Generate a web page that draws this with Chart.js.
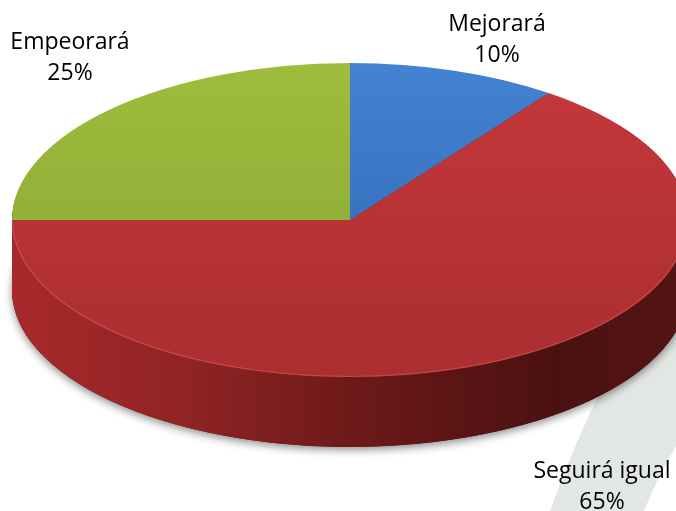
<!DOCTYPE html>
<html>
<head>
<meta charset="utf-8">
<script src="https://cdn.jsdelivr.net/npm/chart.js@4/dist/chart.umd.min.js"></script>
<style>
  html, body { margin: 0; padding: 0; background: #fff; }
  #wrap { width: 676px; height: 511px; position: relative; }
</style>
</head>
<body>
<div id="wrap"><canvas id="chart"></canvas></div>
<script>
const labels = ["Mejorará", "Seguirá igual", "Empeorará"];
const values = [10, 65, 25];

// colours: top face (light, dark) and side
const topLight = ["#4383d2", "#c4383b", "#9ebd3d"];
const topDark = ["#2e63ad", "#ab2e30", "#86a433"];
const sideColor = ["#1f4a80", null, "#5e7524"];

// placement of the flattened pie
const RX = 338, RY = 157, DEPTH = 70;
const labelPos = [[497, 24], [602, 471], [70, 42]];

function topGradient(ctx) {
  const chart = ctx.chart;
  const i = ctx.dataIndex;
  const a = chart.chartArea;
  if (!a) return topLight[i];
  const cy = (a.top + a.bottom) / 2;
  const r = Math.min(a.right - a.left, a.bottom - a.top) / 2;
  const g = chart.ctx.createLinearGradient(0, cy - r, 0, cy + r);
  g.addColorStop(0, topLight[i]);
  g.addColorStop(1, topDark[i]);
  return g;
}

const pie3d = {
  id: "pie3d",
  beforeDraw(chart) {
    const c = chart.ctx;
    // light grey swoosh in the background
    c.save();
    c.fillStyle = "#e3e7e3";
    c.beginPath();
    c.moveTo(676, 262);
    c.quadraticCurveTo(596, 380, 550, 511);
    c.lineTo(644, 511);
    c.quadraticCurveTo(658, 476, 676, 446);
    c.closePath();
    c.fill();
    c.restore();
  },
  beforeDatasetsDraw(chart) {
    const c = chart.ctx;
    const arcs = chart.getDatasetMeta(0).data;
    const { x: cx, y: cy, outerRadius: r } = arcs[0];
    const sx = RX / r, sy = RY / r;

    const wedge = (arc, dy) => {
      c.save();
      c.translate(cx, cy + dy);
      c.scale(sx, sy);
      c.beginPath();
      c.moveTo(0, 0);
      c.arc(0, 0, r, arc.startAngle, arc.endAngle);
      c.closePath();
      c.restore();
    };

    // shadow under the pie
    c.save();
    c.shadowColor = "rgba(0,0,0,0.45)";
    c.shadowBlur = 9;
    c.shadowOffsetY = 3;
    c.fillStyle = "#4a1111";
    c.beginPath();
    c.ellipse(cx, cy + DEPTH, RX, RY, 0, 0, Math.PI * 2);
    c.fill();
    c.restore();

    // side walls, slices at the front drawn last
    const side = c.createLinearGradient(cx - RX, 0, cx + RX, 0);
    side.addColorStop(0, "#a8292b");
    side.addColorStop(0.25, "#912424");
    side.addColorStop(0.5, "#6e1919");
    side.addColorStop(0.8, "#4b1111");
    side.addColorStop(1, "#561414");
    const order = arcs.map((a, i) => i).sort((p, q) => {
      const m = (a) => Math.sin((a.startAngle + a.endAngle) / 2);
      return m(arcs[p]) - m(arcs[q]);
    });
    for (let d = DEPTH; d >= 1; d--) {
      order.forEach((i) => {
        wedge(arcs[i], d);
        c.fillStyle = sideColor[i] || side;
        c.fill();
      });
    }

    // flatten the pie drawn by Chart.js
    c.save();
    c.translate(cx, cy);
    c.scale(sx, sy);
    c.translate(-cx, -cy);
  },
  afterDatasetsDraw(chart) {
    const c = chart.ctx;
    c.restore();
    const { x: cx, y: cy } = chart.getDatasetMeta(0).data[0];
    // light rim along the front edge
    c.save();
    c.strokeStyle = "rgba(230,105,105,0.45)";
    c.lineWidth = 1.2;
    c.beginPath();
    c.ellipse(cx, cy, RX - 0.5, RY - 0.5, 0, 0.02, Math.PI - 0.02);
    c.stroke();
    c.restore();
  },
  afterDraw(chart) {
    const c = chart.ctx;
    c.save();
    c.fillStyle = "#000";
    c.font = "23px 'Open Sans', sans-serif";
    c.textAlign = "center";
    c.textBaseline = "middle";
    labels.forEach((name, i) => {
      const [x, y] = labelPos[i];
      c.fillText(name, x, y);
      c.fillText(values[i] + "%", x, y + 31);
    });
    c.restore();
  }
};

new Chart(document.getElementById("chart"), {
  type: "pie",
  data: {
    labels: labels,
    datasets: [{
      data: values,
      backgroundColor: topGradient,
      borderWidth: 0
    }]
  },
  options: {
    responsive: true,
    maintainAspectRatio: false,
    animation: false,
    events: [],
    layout: { padding: { left: 24, right: 0, top: 0, bottom: 71 } },
    plugins: {
      legend: { display: false },
      tooltip: { enabled: false }
    }
  },
  plugins: [pie3d]
});
</script>
</body>
</html>
